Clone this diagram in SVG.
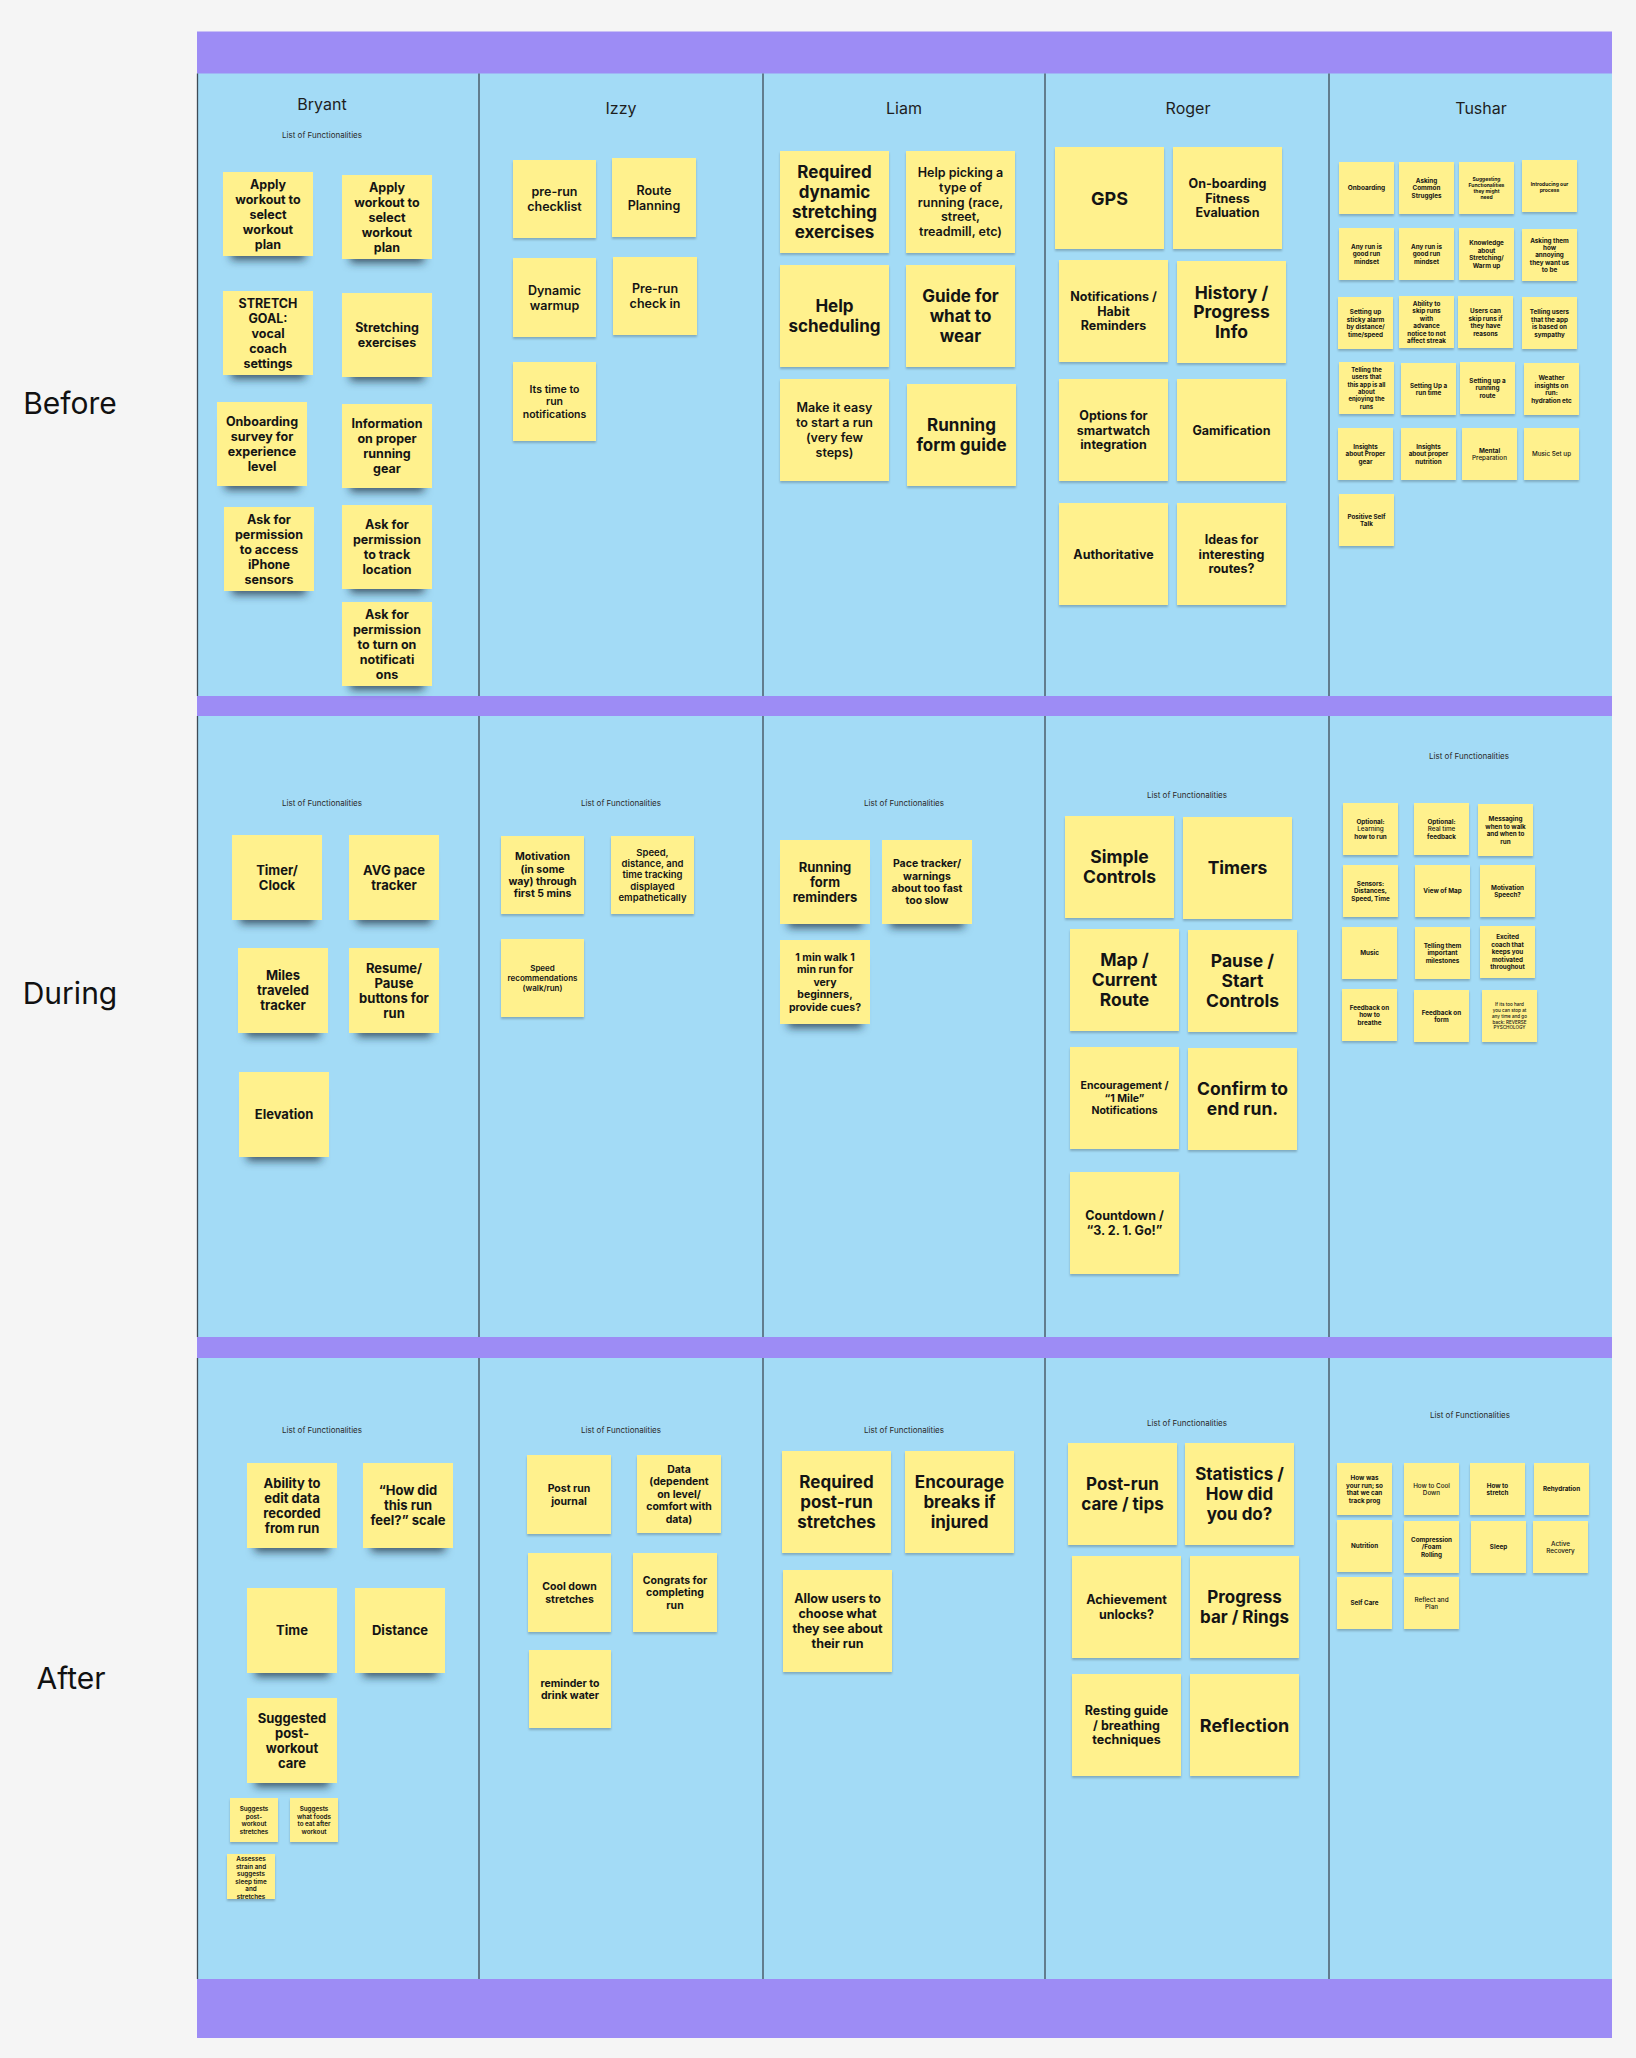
<svg xmlns="http://www.w3.org/2000/svg" width="1636" height="2058" viewBox="0 0 1636 2058">
<defs>
<filter id="shD" x="-20%" y="-20%" width="140%" height="160%">
<feMorphology in="SourceAlpha" operator="erode" radius="8" result="e"/>
<feOffset in="e" dy="12" result="o"/>
<feGaussianBlur in="o" stdDeviation="4" result="b"/>
<feFlood flood-color="#1c2c3c" flood-opacity="0.75"/>
<feComposite in2="b" operator="in" result="s"/>
<feMerge><feMergeNode in="s"/><feMergeNode in="SourceGraphic"/></feMerge>
</filter>
<filter id="shL" x="-20%" y="-20%" width="140%" height="140%">
<feDropShadow dx="0" dy="2" stdDeviation="1.2" flood-color="#000" flood-opacity="0.22"/>
</filter>
<clipPath id="clipA8"><rect x="227" y="1854" width="48" height="45"/></clipPath>
</defs>
<style>
.st{fill:#FFF18D}
.dk{filter:url(#shD)}
.lt{filter:url(#shL)}
text{font-family:Inter,"Liberation Sans",sans-serif;font-weight:700;fill:#141414;text-anchor:middle}
.hd{font-weight:400;font-size:16px;fill:#1e1e1e}
.lf{font-weight:400;font-size:8px;fill:#2a2a2a}
.rl{font-weight:400;font-size:30px;fill:#111}
.f18{font-size:18px}.f175{font-size:17.5px}.f17{font-size:17px}.f13{font-size:13px}.f125{font-size:12.5px}
.f105{font-size:10.5px}.f95{font-size:9.5px}.f8{font-size:8px}.f65{font-size:6.5px}.f63{font-size:6.3px}.f6{font-size:6px}.f5{font-size:5px}.f46{font-size:4.6px}
.m{font-weight:600}.r{font-weight:500}
.dv{stroke:#3f4b56;stroke-width:1.3}
</style>
<rect x="0" y="0" width="1636" height="2058" fill="#F5F5F5"/>
<g id="board">
<rect x="197" y="31.5" width="1415" height="2006.5" fill="#9D8CF5"/>
<rect x="197" y="73.5" width="1415" height="622.5" fill="#A3DBF6"/>
<rect x="197" y="716" width="1415" height="621" fill="#A3DBF6"/>
<rect x="197" y="1358" width="1415" height="621" fill="#A3DBF6"/>
<g class="dv">
<line x1="197.5" y1="73.5" x2="197.5" y2="696"/><line x1="479" y1="73.5" x2="479" y2="696"/><line x1="763" y1="73.5" x2="763" y2="696"/><line x1="1045" y1="73.5" x2="1045" y2="696"/><line x1="1329" y1="73.5" x2="1329" y2="696"/>
<line x1="197.5" y1="716" x2="197.5" y2="1337"/><line x1="479" y1="716" x2="479" y2="1337"/><line x1="763" y1="716" x2="763" y2="1337"/><line x1="1045" y1="716" x2="1045" y2="1337"/><line x1="1329" y1="716" x2="1329" y2="1337"/>
<line x1="197.5" y1="1358" x2="197.5" y2="1979"/><line x1="479" y1="1358" x2="479" y2="1979"/><line x1="763" y1="1358" x2="763" y2="1979"/><line x1="1045" y1="1358" x2="1045" y2="1979"/><line x1="1329" y1="1358" x2="1329" y2="1979"/>
</g>
</g>
<g id="row-labels">
<text class="rl" x="70" y="414">Before</text>
<text class="rl" x="70" y="1004">During</text>
<text class="rl" x="71" y="1689">After</text>
</g>
<g id="headers">
<text class="hd" x="322" y="110">Bryant</text>
<text class="hd" x="621" y="114">Izzy</text>
<text class="hd" x="904" y="114">Liam</text>
<text class="hd" x="1188" y="114">Roger</text>
<text class="hd" x="1481" y="114">Tushar</text>
<text class="lf" x="322" y="138">List of Functionalities</text>
<text class="lf" x="322" y="806">List of Functionalities</text>
<text class="lf" x="621" y="806">List of Functionalities</text>
<text class="lf" x="904" y="806">List of Functionalities</text>
<text class="lf" x="1187" y="798">List of Functionalities</text>
<text class="lf" x="1469" y="759">List of Functionalities</text>
<text class="lf" x="322" y="1433">List of Functionalities</text>
<text class="lf" x="621" y="1433">List of Functionalities</text>
<text class="lf" x="904" y="1433">List of Functionalities</text>
<text class="lf" x="1187" y="1426">List of Functionalities</text>
<text class="lf" x="1470" y="1418">List of Functionalities</text>
</g>

<!-- BEFORE: Bryant -->
<g id="b1"><rect class="st dk" x="223" y="172" width="90" height="84"/><text class="f125"><tspan x="268" y="188.5">Apply</tspan><tspan x="268" y="203.5">workout to</tspan><tspan x="268" y="218.5">select</tspan><tspan x="268" y="233.5">workout</tspan><tspan x="268" y="248.5">plan</tspan></text></g>
<g id="b2"><rect class="st dk" x="342" y="175" width="90" height="84"/><text class="f125"><tspan x="387" y="191.5">Apply</tspan><tspan x="387" y="206.5">workout to</tspan><tspan x="387" y="221.5">select</tspan><tspan x="387" y="236.5">workout</tspan><tspan x="387" y="251.5">plan</tspan></text></g>
<g id="b3"><rect class="st dk" x="223" y="291" width="90" height="84"/><text class="f125"><tspan x="268" y="307.5">STRETCH</tspan><tspan x="268" y="322.5">GOAL:</tspan><tspan x="268" y="337.5">vocal</tspan><tspan x="268" y="352.5">coach</tspan><tspan x="268" y="367.5">settings</tspan></text></g>
<g id="b4"><rect class="st dk" x="342" y="293" width="90" height="84"/><text class="f125"><tspan x="387" y="332">Stretching</tspan><tspan x="387" y="347">exercises</tspan></text></g>
<g id="b5"><rect class="st dk" x="217" y="402" width="90" height="84"/><text class="f125"><tspan x="262" y="426">Onboarding</tspan><tspan x="262" y="441">survey for</tspan><tspan x="262" y="456">experience</tspan><tspan x="262" y="471">level</tspan></text></g>
<g id="b6"><rect class="st dk" x="342" y="404" width="90" height="84"/><text class="f125"><tspan x="387" y="428">Information</tspan><tspan x="387" y="443">on proper</tspan><tspan x="387" y="458">running</tspan><tspan x="387" y="473">gear</tspan></text></g>
<g id="b7"><rect class="st dk" x="224" y="507" width="90" height="84"/><text class="f125"><tspan x="269" y="523.5">Ask for</tspan><tspan x="269" y="538.5">permission</tspan><tspan x="269" y="553.5">to access</tspan><tspan x="269" y="568.5">iPhone</tspan><tspan x="269" y="583.5">sensors</tspan></text></g>
<g id="b8"><rect class="st dk" x="342" y="505" width="90" height="84"/><text class="f125"><tspan x="387" y="529">Ask for</tspan><tspan x="387" y="544">permission</tspan><tspan x="387" y="559">to track</tspan><tspan x="387" y="574">location</tspan></text></g>
<g id="b9"><rect class="st dk" x="342" y="602" width="90" height="84"/><text class="f125"><tspan x="387" y="618.5">Ask for</tspan><tspan x="387" y="633.5">permission</tspan><tspan x="387" y="648.5">to turn on</tspan><tspan x="387" y="663.5">notificati</tspan><tspan x="387" y="678.5">ons</tspan></text></g>

<!-- BEFORE: Izzy -->
<g id="i1"><rect class="st lt" x="513" y="160" width="83" height="78"/><text class="f125 m"><tspan x="554.5" y="196">pre-run</tspan><tspan x="554.5" y="211">checklist</tspan></text></g>
<g id="i2"><rect class="st lt" x="612" y="158" width="84" height="79"/><text class="f125 m"><tspan x="654" y="194.5">Route</tspan><tspan x="654" y="209.5">Planning</tspan></text></g>
<g id="i3"><rect class="st lt" x="513" y="258" width="83" height="79"/><text class="f125 m"><tspan x="554.5" y="294.5">Dynamic</tspan><tspan x="554.5" y="309.5">warmup</tspan></text></g>
<g id="i4"><rect class="st lt" x="613" y="257" width="84" height="78"/><text class="f125 m"><tspan x="655" y="293">Pre-run</tspan><tspan x="655" y="308">check in</tspan></text></g>
<g id="i5"><rect class="st lt" x="513" y="362" width="83" height="79"/><text class="f105 m"><tspan x="554.5" y="393.1">Its time to</tspan><tspan x="554.5" y="405.3">run</tspan><tspan x="554.5" y="417.5">notifications</tspan></text></g>

<!-- BEFORE: Liam -->
<g id="l1"><rect class="st lt" x="780" y="151" width="109" height="102"/><text class="f17"><tspan x="834.5" y="178.1">Required</tspan><tspan x="834.5" y="198.1">dynamic</tspan><tspan x="834.5" y="218.1">stretching</tspan><tspan x="834.5" y="238.1">exercises</tspan></text></g>
<g id="l2"><rect class="st lt" x="906" y="151" width="109" height="102"/><text class="f125 m"><tspan x="960.5" y="176.9">Help picking a</tspan><tspan x="960.5" y="191.7">type of</tspan><tspan x="960.5" y="206.5">running (race,</tspan><tspan x="960.5" y="221.3">street,</tspan><tspan x="960.5" y="236.1">treadmill, etc)</tspan></text></g>
<g id="l3"><rect class="st lt" x="780" y="265" width="109" height="102"/><text class="f17"><tspan x="834.5" y="312.1">Help</tspan><tspan x="834.5" y="332.1">scheduling</tspan></text></g>
<g id="l4"><rect class="st lt" x="906" y="265" width="109" height="102"/><text class="f17"><tspan x="960.5" y="302.1">Guide for</tspan><tspan x="960.5" y="322.1">what to</tspan><tspan x="960.5" y="342.1">wear</tspan></text></g>
<g id="l5"><rect class="st lt" x="780" y="379" width="109" height="102"/><text class="f125 m"><tspan x="834.5" y="412">Make it easy</tspan><tspan x="834.5" y="427">to start a run</tspan><tspan x="834.5" y="442">(very few</tspan><tspan x="834.5" y="457">steps)</tspan></text></g>
<g id="l6"><rect class="st lt" x="907" y="384" width="109" height="102"/><text class="f17"><tspan x="961.5" y="431.1">Running</tspan><tspan x="961.5" y="451.1">form guide</tspan></text></g>

<!-- BEFORE: Roger -->
<g id="r1"><rect class="st lt" x="1055" y="147" width="109" height="102"/><text class="f18" x="1109.5" y="204.5">GPS</text></g>
<g id="r2"><rect class="st lt" x="1173" y="147" width="109" height="102"/><text class="f125"><tspan x="1227.5" y="187.7">On-boarding</tspan><tspan x="1227.5" y="202.5">Fitness</tspan><tspan x="1227.5" y="217.3">Evaluation</tspan></text></g>
<g id="r3"><rect class="st lt" x="1059" y="260" width="109" height="102"/><text class="f125"><tspan x="1113.5" y="300.7">Notifications /</tspan><tspan x="1113.5" y="315.5">Habit</tspan><tspan x="1113.5" y="330.3">Reminders</tspan></text></g>
<g id="r4"><rect class="st lt" x="1177" y="261" width="109" height="102"/><text class="f175"><tspan x="1231.5" y="298.7">History /</tspan><tspan x="1231.5" y="318.3">Progress</tspan><tspan x="1231.5" y="337.9">Info</tspan></text></g>
<g id="r5"><rect class="st lt" x="1059" y="379" width="109" height="102"/><text class="f125"><tspan x="1113.5" y="419.7">Options for</tspan><tspan x="1113.5" y="434.5">smartwatch</tspan><tspan x="1113.5" y="449.3">integration</tspan></text></g>
<g id="r6"><rect class="st lt" x="1177" y="379" width="109" height="102"/><text class="f125" x="1231.5" y="434.5">Gamification</text></g>
<g id="r7"><rect class="st lt" x="1059" y="503" width="109" height="102"/><text class="f125" x="1113.5" y="558.5">Authoritative</text></g>
<g id="r8"><rect class="st lt" x="1177" y="503" width="109" height="102"/><text class="f125"><tspan x="1231.5" y="543.7">Ideas for</tspan><tspan x="1231.5" y="558.5">interesting</tspan><tspan x="1231.5" y="573.3">routes?</tspan></text></g>

<!-- BEFORE: Tushar -->
<g id="t1"><rect class="st lt" x="1339" y="162" width="55" height="52"/><text class="f65" x="1366.5" y="190.3">Onboarding</text></g>
<g id="t2"><rect class="st lt" x="1399" y="162" width="55" height="52"/><text class="f63"><tspan x="1426.5" y="182.8">Asking</tspan><tspan x="1426.5" y="190.3">Common</tspan><tspan x="1426.5" y="197.8">Struggles</tspan></text></g>
<g id="t3"><rect class="st lt" x="1459" y="162" width="55" height="52"/><text class="f5"><tspan x="1486.5" y="180.5">Suggesting</tspan><tspan x="1486.5" y="186.7">Functionalities</tspan><tspan x="1486.5" y="192.9">they might</tspan><tspan x="1486.5" y="199.1">need</tspan></text></g>
<g id="t4"><rect class="st lt" x="1522" y="160" width="55" height="52"/><text class="f5"><tspan x="1549.5" y="185.5">Introducing our</tspan><tspan x="1549.5" y="191.7">process</tspan></text></g>
<g id="t5"><rect class="st lt" x="1339" y="228" width="55" height="52"/><text class="f63"><tspan x="1366.5" y="248.8">Any run is</tspan><tspan x="1366.5" y="256.3">good run</tspan><tspan x="1366.5" y="263.8">mindset</tspan></text></g>
<g id="t6"><rect class="st lt" x="1399" y="228" width="55" height="52"/><text class="f63"><tspan x="1426.5" y="248.8">Any run is</tspan><tspan x="1426.5" y="256.3">good run</tspan><tspan x="1426.5" y="263.8">mindset</tspan></text></g>
<g id="t7"><rect class="st lt" x="1459" y="228" width="55" height="52"/><text class="f63"><tspan x="1486.5" y="245.1">Knowledge</tspan><tspan x="1486.5" y="252.6">about</tspan><tspan x="1486.5" y="260.1">Stretching/</tspan><tspan x="1486.5" y="267.6">Warm up</tspan></text></g>
<g id="t8"><rect class="st lt" x="1522" y="229" width="55" height="52"/><text class="f63"><tspan x="1549.5" y="242.7">Asking them</tspan><tspan x="1549.5" y="250">how</tspan><tspan x="1549.5" y="257.3">annoying</tspan><tspan x="1549.5" y="264.6">they want us</tspan><tspan x="1549.5" y="271.9">to be</tspan></text></g>
<g id="t9"><rect class="st lt" x="1338" y="297" width="55" height="52"/><text class="f63"><tspan x="1365.5" y="314.1">Setting up</tspan><tspan x="1365.5" y="321.6">sticky alarm</tspan><tspan x="1365.5" y="329.1">by distance/</tspan><tspan x="1365.5" y="336.6">time/speed</tspan></text></g>
<g id="t10"><rect class="st lt" x="1399" y="296" width="55" height="52"/><text class="f63"><tspan x="1426.5" y="305.6">Ability to</tspan><tspan x="1426.5" y="313.1">skip runs</tspan><tspan x="1426.5" y="320.6">with</tspan><tspan x="1426.5" y="328.1">advance</tspan><tspan x="1426.5" y="335.6">notice to not</tspan><tspan x="1426.5" y="343.1">affect streak</tspan></text></g>
<g id="t11"><rect class="st lt" x="1458" y="296" width="55" height="52"/><text class="f63"><tspan x="1485.5" y="313.1">Users can</tspan><tspan x="1485.5" y="320.6">skip runs if</tspan><tspan x="1485.5" y="328.1">they have</tspan><tspan x="1485.5" y="335.6">reasons</tspan></text></g>
<g id="t12"><rect class="st lt" x="1522" y="297" width="55" height="52"/><text class="f63"><tspan x="1549.5" y="314.1">Telling users</tspan><tspan x="1549.5" y="321.6">that the app</tspan><tspan x="1549.5" y="329.1">is based on</tspan><tspan x="1549.5" y="336.6">sympathy</tspan></text></g>
<g id="t13"><rect class="st lt" x="1339" y="362" width="55" height="52"/><text class="f6"><tspan x="1366.5" y="371.7">Telling the</tspan><tspan x="1366.5" y="379.1">users that</tspan><tspan x="1366.5" y="386.5">this app is all</tspan><tspan x="1366.5" y="393.9">about</tspan><tspan x="1366.5" y="401.3">enjoying the</tspan><tspan x="1366.5" y="408.7">runs</tspan></text></g>
<g id="t14"><rect class="st lt" x="1401" y="363" width="55" height="52"/><text class="f63"><tspan x="1428.5" y="387.6">Setting Up a</tspan><tspan x="1428.5" y="395.1">run time</tspan></text></g>
<g id="t15"><rect class="st lt" x="1460" y="362" width="55" height="52"/><text class="f63"><tspan x="1487.5" y="382.8">Setting up a</tspan><tspan x="1487.5" y="390.3">running</tspan><tspan x="1487.5" y="397.8">route</tspan></text></g>
<g id="t16"><rect class="st lt" x="1524" y="363" width="55" height="52"/><text class="f63"><tspan x="1551.5" y="380.1">Weather</tspan><tspan x="1551.5" y="387.6">insights on</tspan><tspan x="1551.5" y="395.1">run:</tspan><tspan x="1551.5" y="402.6">hydration etc</tspan></text></g>
<g id="t17"><rect class="st lt" x="1338" y="428" width="55" height="52"/><text class="f63"><tspan x="1365.5" y="448.8">Insights</tspan><tspan x="1365.5" y="456.3">about Proper</tspan><tspan x="1365.5" y="463.8">gear</tspan></text></g>
<g id="t18"><rect class="st lt" x="1401" y="428" width="55" height="52"/><text class="f63"><tspan x="1428.5" y="448.8">Insights</tspan><tspan x="1428.5" y="456.3">about proper</tspan><tspan x="1428.5" y="463.8">nutrition</tspan></text></g>
<g id="t19"><rect class="st lt" x="1462" y="428" width="55" height="52"/><text class="f63"><tspan x="1489.5" y="452.6">Mental</tspan><tspan class="r" x="1489.5" y="460.1">Preparation</tspan></text></g>
<g id="t20"><rect class="st lt" x="1524" y="428" width="55" height="52"/><text class="f63 r" x="1551.5" y="456.3">Music Set up</text></g>
<g id="t21"><rect class="st lt" x="1339" y="494" width="55" height="52"/><text class="f63"><tspan x="1366.5" y="518.6">Positive Self</tspan><tspan x="1366.5" y="526.1">Talk</tspan></text></g>

<!-- DURING: Bryant -->
<g id="d1"><rect class="st dk" x="232" y="835" width="90" height="85"/><text class="f13"><tspan x="277" y="874.7">Timer/</tspan><tspan x="277" y="889.7">Clock</tspan></text></g>
<g id="d2"><rect class="st dk" x="349" y="835" width="90" height="85"/><text class="f13"><tspan x="394" y="874.7">AVG pace</tspan><tspan x="394" y="889.7">tracker</tspan></text></g>
<g id="d3"><rect class="st dk" x="238" y="948" width="90" height="85"/><text class="f13"><tspan x="283" y="980.2">Miles</tspan><tspan x="283" y="995.2">traveled</tspan><tspan x="283" y="1010.2">tracker</tspan></text></g>
<g id="d4"><rect class="st dk" x="349" y="948" width="90" height="85"/><text class="f13"><tspan x="394" y="972.7">Resume/</tspan><tspan x="394" y="987.7">Pause</tspan><tspan x="394" y="1002.7">buttons for</tspan><tspan x="394" y="1017.7">run</tspan></text></g>
<g id="d5"><rect class="st dk" x="239" y="1072" width="90" height="85"/><text class="f13" x="284" y="1119.2">Elevation</text></g>

<!-- DURING: Izzy -->
<g id="d6"><rect class="st lt" x="501" y="836" width="83" height="78"/><text class="f105"><tspan x="542.5" y="860.2">Motivation</tspan><tspan x="542.5" y="872.6">(in some</tspan><tspan x="542.5" y="885">way) through</tspan><tspan x="542.5" y="897.4">first 5 mins</tspan></text></g>
<g id="d7"><rect class="st lt" x="611" y="836" width="83" height="78"/><text class="f95 m"><tspan x="652.5" y="855.6">Speed,</tspan><tspan x="652.5" y="867">distance, and</tspan><tspan x="652.5" y="878.4">time tracking</tspan><tspan x="652.5" y="889.8">displayed</tspan><tspan x="652.5" y="901.2">empathetically</tspan></text></g>
<g id="d8"><rect class="st lt" x="501" y="939" width="83" height="78"/><text class="f8 m"><tspan x="542.5" y="970.9">Speed</tspan><tspan x="542.5" y="980.9">recommendations</tspan><tspan x="542.5" y="990.9">(walk/run)</tspan></text></g>

<!-- DURING: Liam -->
<g id="d9"><rect class="st dk" x="780" y="840" width="90" height="84"/><text class="f13"><tspan x="825" y="871.7">Running</tspan><tspan x="825" y="886.7">form</tspan><tspan x="825" y="901.7">reminders</tspan></text></g>
<g id="d10"><rect class="st dk" x="882" y="840" width="90" height="84"/><text class="f105"><tspan x="927" y="867.2">Pace tracker/</tspan><tspan x="927" y="879.6">warnings</tspan><tspan x="927" y="892">about too fast</tspan><tspan x="927" y="904.4">too slow</tspan></text></g>
<g id="d11"><rect class="st dk" x="780" y="940" width="90" height="84"/><text class="f105"><tspan x="825" y="961">1 min walk 1</tspan><tspan x="825" y="973.4">min run for</tspan><tspan x="825" y="985.8">very</tspan><tspan x="825" y="998.2">beginners,</tspan><tspan x="825" y="1010.6">provide cues?</tspan></text></g>

<!-- DURING: Roger -->
<g id="d12"><rect class="st lt" x="1065" y="816" width="109" height="102"/><text class="f175"><tspan x="1119.5" y="863.3">Simple</tspan><tspan x="1119.5" y="883.3">Controls</tspan></text></g>
<g id="d13"><rect class="st lt" x="1183" y="817" width="109" height="102"/><text class="f175" x="1237.5" y="874.3">Timers</text></g>
<g id="d14"><rect class="st lt" x="1070" y="929" width="109" height="102"/><text class="f175"><tspan x="1124.5" y="966.3">Map /</tspan><tspan x="1124.5" y="986.3">Current</tspan><tspan x="1124.5" y="1006.3">Route</tspan></text></g>
<g id="d15"><rect class="st lt" x="1188" y="930" width="109" height="102"/><text class="f175"><tspan x="1242.5" y="967.3">Pause /</tspan><tspan x="1242.5" y="987.3">Start</tspan><tspan x="1242.5" y="1007.3">Controls</tspan></text></g>
<g id="d16"><rect class="st lt" x="1070" y="1047" width="109" height="102"/><text class="f105"><tspan x="1124.5" y="1089.4">Encouragement /</tspan><tspan x="1124.5" y="1101.8">“1 Mile”</tspan><tspan x="1124.5" y="1114.2">Notifications</tspan></text></g>
<g id="d17"><rect class="st lt" x="1188" y="1048" width="109" height="102"/><text class="f175"><tspan x="1242.5" y="1095.3">Confirm to</tspan><tspan x="1242.5" y="1115.3">end run.</tspan></text></g>
<g id="d18"><rect class="st lt" x="1070" y="1172" width="109" height="102"/><text class="f125"><tspan x="1124.5" y="1220">Countdown /</tspan><tspan x="1124.5" y="1235">“3. 2. 1. Go!”</tspan></text></g>

<!-- DURING: Tushar -->
<g id="d19"><rect class="st lt" x="1343" y="803" width="55" height="52"/><text class="f63"><tspan x="1370.5" y="823.8">Optional:</tspan><tspan class="r" x="1370.5" y="831.3">Learning</tspan><tspan x="1370.5" y="838.8">how to run</tspan></text></g>
<g id="d20"><rect class="st lt" x="1414" y="803" width="55" height="52"/><text class="f63"><tspan x="1441.5" y="823.8">Optional:</tspan><tspan class="r" x="1441.5" y="831.3">Real time</tspan><tspan x="1441.5" y="838.8">feedback</tspan></text></g>
<g id="d21"><rect class="st lt" x="1478" y="804" width="55" height="52"/><text class="f63"><tspan x="1505.5" y="821.1">Messaging</tspan><tspan x="1505.5" y="828.6">when to walk</tspan><tspan x="1505.5" y="836.1">and when to</tspan><tspan x="1505.5" y="843.6">run</tspan></text></g>
<g id="d22"><rect class="st lt" x="1343" y="865" width="55" height="52"/><text class="f63"><tspan x="1370.5" y="885.8">Sensors:</tspan><tspan x="1370.5" y="893.3">Distances,</tspan><tspan x="1370.5" y="900.8">Speed, Time</tspan></text></g>
<g id="d23"><rect class="st lt" x="1415" y="865" width="55" height="52"/><text class="f63" x="1442.5" y="893.3">View of Map</text></g>
<g id="d24"><rect class="st lt" x="1480" y="865" width="55" height="52"/><text class="f63"><tspan x="1507.5" y="889.6">Motivation</tspan><tspan x="1507.5" y="897.1">Speech?</tspan></text></g>
<g id="d25"><rect class="st lt" x="1342" y="927" width="55" height="52"/><text class="f63" x="1369.5" y="955.3">Music</text></g>
<g id="d26"><rect class="st lt" x="1415" y="927" width="55" height="52"/><text class="f63"><tspan x="1442.5" y="947.8">Telling them</tspan><tspan x="1442.5" y="955.3">important</tspan><tspan x="1442.5" y="962.8">milestones</tspan></text></g>
<g id="d27"><rect class="st lt" x="1480" y="926" width="55" height="52"/><text class="f63"><tspan x="1507.5" y="939.3">Excited</tspan><tspan x="1507.5" y="946.8">coach that</tspan><tspan x="1507.5" y="954.3">keeps you</tspan><tspan x="1507.5" y="961.8">motivated</tspan><tspan x="1507.5" y="969.3">throughout</tspan></text></g>
<g id="d28"><rect class="st lt" x="1342" y="989" width="55" height="52"/><text class="f63"><tspan x="1369.5" y="1009.8">Feedback on</tspan><tspan x="1369.5" y="1017.3">how to</tspan><tspan x="1369.5" y="1024.8">breathe</tspan></text></g>
<g id="d29"><rect class="st lt" x="1414" y="990" width="55" height="52"/><text class="f63"><tspan x="1441.5" y="1014.6">Feedback on</tspan><tspan x="1441.5" y="1022.1">form</tspan></text></g>
<g id="d30"><rect class="st lt" x="1482" y="990" width="55" height="52"/><text class="f46 r"><tspan x="1509.5" y="1006.1">If its too hard</tspan><tspan x="1509.5" y="1011.9">you can stop at</tspan><tspan x="1509.5" y="1017.7">any time and go</tspan><tspan x="1509.5" y="1023.5">back: REVERSE</tspan><tspan x="1509.5" y="1029.3">PYSCHOLOGY</tspan></text></g>

<!-- AFTER: Bryant -->
<g id="a1"><rect class="st dk" x="247" y="1463" width="90" height="85"/><text class="f13"><tspan x="292" y="1487.7">Ability to</tspan><tspan x="292" y="1502.7">edit data</tspan><tspan x="292" y="1517.7">recorded</tspan><tspan x="292" y="1532.7">from run</tspan></text></g>
<g id="a2"><rect class="st dk" x="363" y="1463" width="90" height="85"/><text class="f13"><tspan x="408" y="1495.2">“How did</tspan><tspan x="408" y="1510.2">this run</tspan><tspan x="408" y="1525.2">feel?” scale</tspan></text></g>
<g id="a3"><rect class="st dk" x="247" y="1588" width="90" height="85"/><text class="f13" x="292" y="1635.2">Time</text></g>
<g id="a4"><rect class="st dk" x="355" y="1588" width="90" height="85"/><text class="f13" x="400" y="1635.2">Distance</text></g>
<g id="a5"><rect class="st dk" x="247" y="1698" width="90" height="85"/><text class="f13"><tspan x="292" y="1722.7">Suggested</tspan><tspan x="292" y="1737.7">post-</tspan><tspan x="292" y="1752.7">workout</tspan><tspan x="292" y="1767.7">care</tspan></text></g>
<g id="a6"><rect class="st lt" x="230" y="1798" width="48" height="44"/><text class="f63 m"><tspan x="254" y="1811.1">Suggests</tspan><tspan x="254" y="1818.6">post-</tspan><tspan x="254" y="1826.1">workout</tspan><tspan x="254" y="1833.6">stretches</tspan></text></g>
<g id="a7"><rect class="st lt" x="290" y="1798" width="48" height="44"/><text class="f63 m"><tspan x="314" y="1811.1">Suggests</tspan><tspan x="314" y="1818.6">what foods</tspan><tspan x="314" y="1826.1">to eat after</tspan><tspan x="314" y="1833.6">workout</tspan></text></g>
<g id="a8"><rect class="st lt" x="227" y="1854" width="48" height="45"/><text class="f63 m" clip-path="url(#clipA8)"><tspan x="251" y="1861">Assesses</tspan><tspan x="251" y="1868.5">strain and</tspan><tspan x="251" y="1876">suggests</tspan><tspan x="251" y="1883.5">sleep time</tspan><tspan x="251" y="1891">and</tspan><tspan x="251" y="1898.5">stretches</tspan></text></g>

<!-- AFTER: Izzy -->
<g id="a9"><rect class="st lt" x="527" y="1455" width="84" height="79"/><text class="f105"><tspan x="569" y="1492">Post run</tspan><tspan x="569" y="1504.7">journal</tspan></text></g>
<g id="a10"><rect class="st lt" x="637" y="1455" width="84" height="78"/><text class="f105"><tspan x="679" y="1473">Data</tspan><tspan x="679" y="1485.4">(dependent</tspan><tspan x="679" y="1497.8">on level/</tspan><tspan x="679" y="1510.2">comfort with</tspan><tspan x="679" y="1522.6">data)</tspan></text></g>
<g id="a11"><rect class="st lt" x="528" y="1553" width="83" height="79"/><text class="f105"><tspan x="569.5" y="1590">Cool down</tspan><tspan x="569.5" y="1602.7">stretches</tspan></text></g>
<g id="a12"><rect class="st lt" x="633" y="1553" width="84" height="79"/><text class="f105"><tspan x="675" y="1583.9">Congrats for</tspan><tspan x="675" y="1596.3">completing</tspan><tspan x="675" y="1608.7">run</tspan></text></g>
<g id="a13"><rect class="st lt" x="529" y="1650" width="82" height="78"/><text class="f105"><tspan x="570" y="1686.5">reminder to</tspan><tspan x="570" y="1699">drink water</tspan></text></g>

<!-- AFTER: Liam -->
<g id="a14"><rect class="st lt" x="782" y="1451" width="109" height="102"/><text class="f17"><tspan x="836.5" y="1488.1">Required</tspan><tspan x="836.5" y="1508.1">post-run</tspan><tspan x="836.5" y="1528.1">stretches</tspan></text></g>
<g id="a15"><rect class="st lt" x="905" y="1451" width="109" height="102"/><text class="f17"><tspan x="959.5" y="1488.1">Encourage</tspan><tspan x="959.5" y="1508.1">breaks if</tspan><tspan x="959.5" y="1528.1">injured</tspan></text></g>
<g id="a16"><rect class="st lt" x="783" y="1570" width="109" height="102"/><text class="f125"><tspan x="837.5" y="1603">Allow users to</tspan><tspan x="837.5" y="1618">choose what</tspan><tspan x="837.5" y="1633">they see about</tspan><tspan x="837.5" y="1648">their run</tspan></text></g>

<!-- AFTER: Roger -->
<g id="a17"><rect class="st lt" x="1068" y="1443" width="109" height="102"/><text class="f17"><tspan x="1122.5" y="1490.1">Post-run</tspan><tspan x="1122.5" y="1510.1">care / tips</tspan></text></g>
<g id="a18"><rect class="st lt" x="1185" y="1443" width="109" height="102"/><text class="f17"><tspan x="1239.5" y="1480.1">Statistics /</tspan><tspan x="1239.5" y="1500.1">How did</tspan><tspan x="1239.5" y="1520.1">you do?</tspan></text></g>
<g id="a19"><rect class="st lt" x="1072" y="1556" width="109" height="102"/><text class="f125"><tspan x="1126.5" y="1604">Achievement</tspan><tspan x="1126.5" y="1619">unlocks?</tspan></text></g>
<g id="a20"><rect class="st lt" x="1190" y="1556" width="109" height="102"/><text class="f17"><tspan x="1244.5" y="1603.1">Progress</tspan><tspan x="1244.5" y="1623.1">bar / Rings</tspan></text></g>
<g id="a21"><rect class="st lt" x="1072" y="1674" width="109" height="102"/><text class="f125"><tspan x="1126.5" y="1714.7">Resting guide</tspan><tspan x="1126.5" y="1729.5">/ breathing</tspan><tspan x="1126.5" y="1744.3">techniques</tspan></text></g>
<g id="a22"><rect class="st lt" x="1190" y="1674" width="109" height="102"/><text class="f18" x="1244.5" y="1731.5">Reflection</text></g>

<!-- AFTER: Tushar -->
<g id="a23"><rect class="st lt" x="1337" y="1463" width="55" height="52"/><text class="f63"><tspan x="1364.5" y="1480.1">How was</tspan><tspan x="1364.5" y="1487.6">your run; so</tspan><tspan x="1364.5" y="1495.1">that we can</tspan><tspan x="1364.5" y="1502.6">track prog</tspan></text></g>
<g id="a24"><rect class="st lt" x="1404" y="1463" width="55" height="52"/><text class="f63 r"><tspan x="1431.5" y="1487.6">How to Cool</tspan><tspan x="1431.5" y="1495.1">Down</tspan></text></g>
<g id="a25"><rect class="st lt" x="1470" y="1463" width="55" height="52"/><text class="f63"><tspan x="1497.5" y="1487.6">How to</tspan><tspan x="1497.5" y="1495.1">stretch</tspan></text></g>
<g id="a26"><rect class="st lt" x="1534" y="1463" width="55" height="52"/><text class="f63" x="1561.5" y="1491.3">Rehydration</text></g>
<g id="a27"><rect class="st lt" x="1337" y="1520" width="55" height="52"/><text class="f63" x="1364.5" y="1548.3">Nutrition</text></g>
<g id="a28"><rect class="st lt" x="1404" y="1521" width="55" height="52"/><text class="f63"><tspan x="1431.5" y="1541.8">Compression</tspan><tspan x="1431.5" y="1549.3">/Foam</tspan><tspan x="1431.5" y="1556.8">Rolling</tspan></text></g>
<g id="a29"><rect class="st lt" x="1471" y="1521" width="55" height="52"/><text class="f63" x="1498.5" y="1549.3">Sleep</text></g>
<g id="a30"><rect class="st lt" x="1533" y="1521" width="55" height="52"/><text class="f63 r"><tspan x="1560.5" y="1545.6">Active</tspan><tspan x="1560.5" y="1553.1">Recovery</tspan></text></g>
<g id="a31"><rect class="st lt" x="1337" y="1577" width="55" height="52"/><text class="f63" x="1364.5" y="1605.3">Self Care</text></g>
<g id="a32"><rect class="st lt" x="1404" y="1577" width="55" height="52"/><text class="f63 r"><tspan x="1431.5" y="1601.6">Reflect and</tspan><tspan x="1431.5" y="1609.1">Plan</tspan></text></g>
</svg>
